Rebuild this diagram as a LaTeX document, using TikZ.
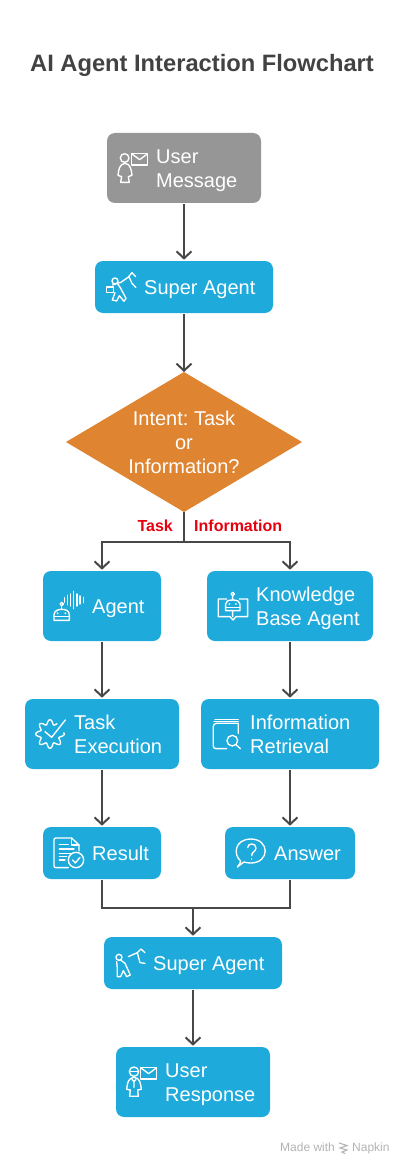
\documentclass[tikz,border=0pt]{standalone}
\usepackage{fontspec}
\setmainfont{Liberation Sans}
\usetikzlibrary{arrows.meta,shapes.geometric}
\definecolor{blueb}{HTML}{1EAADB}
\definecolor{greyb}{HTML}{969696}
\definecolor{orangeb}{HTML}{DF8430}
\definecolor{lineb}{HTML}{474747}
\definecolor{titleb}{HTML}{424242}
\definecolor{redb}{HTML}{E8000F}
\definecolor{markb}{HTML}{B4B4B4}
\tikzset{
  boxb/.style={fill=blueb,rounded corners=8pt,inner sep=0pt,outer sep=1.3pt},
  boxg/.style={fill=greyb,rounded corners=8pt,inner sep=0pt,outer sep=1.3pt},
  wh/.style 2 args={minimum width=#1pt,minimum height=#2pt},
  lab/.style={text=white,inner sep=0pt,align=left,font=\fontsize{20}{24}\selectfont},
  labtwo/.style={lab,anchor=west,yshift=-3pt},
  labone/.style={lab,anchor=west,text height=16pt,text depth=2pt},
  con/.style={draw=lineb,line width=2pt},
  arr/.style={con,-{Straight Barb[length=7pt,width=15pt,line width=2pt]}},
  tag/.style={text=redb,inner sep=0pt,font=\bfseries\fontsize{16}{18}\selectfont},
  ico/.style={draw=white,line width=1.35pt,line join=round,line cap=round},
  wmark/.style={inner sep=0pt,anchor=base west,text=markb,font=\fontsize{12}{14}\selectfont},
}
\begin{document}
\frenchspacing
\begin{tikzpicture}[x=1pt,y=-1pt]
\useasboundingbox[fill=white] (0,0) rectangle (400,1166);
\node[inner sep=0pt,text=titleb,font=\bfseries\fontsize{23.7}{28}\selectfont] (title) at (202,65) {AI Agent Interaction Flowchart};

\node[boxg,wh={154}{70}] (um) at (184,168) {};
\node[boxb,wh={178}{52}] (sa) at (184,287) {};
\node[diamond,fill=orangeb,aspect=1.686,minimum width=236pt,minimum height=140pt,inner sep=0pt,outer sep=0pt] (dec) at (184,442) {};
\node[boxb,wh={118}{70}] (ag) at (102,606) {};
\node[boxb,wh={166}{70}] (kb) at (290,606) {};
\node[boxb,wh={154}{70}] (te) at (102,734) {};
\node[boxb,wh={178}{70}] (ir) at (290,734) {};
\node[boxb,wh={118}{52}] (re) at (102,853) {};
\node[boxb,wh={130}{52}] (an) at (290,853) {};
\node[boxb,wh={178}{52}] (sb) at (193,963) {};
\node[boxb,wh={154}{70}] (ur) at (193,1082) {};

\node[labtwo] (umt) at (156,168) {User\\Message};
\node[labone] (sat) at (144,287) {Super Agent};
\node[lab,align=center,anchor=center] (dect) at (184,442) {Intent: Task\\or\\Information?};
\node[labone] (agt) at (92,606) {Agent};
\node[labtwo] (kbt) at (256,605) {Knowledge\\Base Agent};
\node[labtwo] (tet) at (74,731) {Task\\Execution};
\node[labtwo] (irt) at (250,731) {Information\\Retrieval};
\node[labone] (ret) at (92,853) {Result};
\node[labone] (ant) at (274,853) {Answer};
\node[labone] (sbt) at (153,963) {Super Agent};
\node[labtwo] (urt) at (165,1082) {User\\Response};

\node[tag,anchor=base east] (tt) at (173,531) {Task};
\node[tag,anchor=base west] (ti) at (194,531) {Information};

\coordinate (j1) at (184,542);
\coordinate (j2) at (193,908);
\draw[arr] (um) -- (sa);
\draw[arr] (sa) -- (dec);
\draw[con] (dec.south) -- (j1);
\draw[arr] (j1) -| (ag.north);
\draw[arr] (j1) -| (kb.north);
\draw[arr] (ag) -- (te);
\draw[arr] (kb) -- (ir);
\draw[arr] (te) -- (re);
\draw[arr] (ir.south) -- (an.north);
\draw[con] (re.south) |- (j2);
\draw[con] (an.south) |- (j2);
\draw[arr] (j2) -- (sb);
\draw[arr] (sb) -- (ur);

% icons, top group
\begin{scope}[shift={(0,120)},x=.3333pt,y=-.3333pt]
 \draw[ico] (374,114) circle[radius=13];
 \draw[ico] (375,130) .. controls (392,132) and (394,150) .. (396,166) -- (385,170) -- (388,187) -- (362,187) -- (365,170) -- (354,166) .. controls (356,150) and (358,132) .. cycle;
 \draw[ico] (395,100) rectangle (443,135);
 \draw[ico] (396,102) -- (419,119) -- (442,102);
 % super agent
 \draw[ico] (345,483) circle[radius=9];
 \draw[ico] (320,501) rectangle (340,518);
 \draw[ico] (338,495) -- (352,490) -- (362,505) -- (378,535) -- (372,544) -- (358,527) -- (350,543) -- (337,540) -- (345,518);
 \draw[ico] (352,490) -- (363,487) -- (387,470) -- (396,490) -- (408,503);
 \draw[ico] (386,470) -- (396,458) -- (407,470);
\end{scope}
\begin{scope}[shift={(0,500)},x=.3333pt,y=-.3333pt]
 % agent
 \draw[ico] (162,361) -- (162,345) .. controls (162,332) and (175,328) .. (185,328) .. controls (198,328) and (208,332) .. (208,345) -- (208,361) -- cycle;
 \draw[ico] (162,350) -- (208,350);
 \fill[white] (173,340) circle[radius=3] (196,340) circle[radius=3];
 \draw[ico] (185,312) circle[radius=5];
 \draw[ico] (185,317) -- (185,328);
 \foreach \bx/\bh in {194/7,203/14,212/18,221/26,231/18,240/12,251/8}{\draw[ico] (\bx,300-\bh) -- (\bx,300+\bh);}
 % kb
 \draw[ico] (680,297) -- (655,297) -- (655,350) -- (690,350) -- (699,360) -- (708,350) -- (743,350) -- (743,297) -- (718,297);
 \draw[ico] (677,332) -- (677,312) .. controls (677,304) and (684,300) .. (698,300) .. controls (712,300) and (720,304) .. (720,312) -- (720,332) -- cycle;
 \draw[ico] (677,322) -- (720,322);
 \fill[white] (688,312) circle[radius=3] (708,312) circle[radius=3];
 \draw[ico] (698,282) circle[radius=5] (698,287) -- (698,300) (698,332) -- (698,350);
 % gear
 \draw[ico] plot[smooth,samples=121,domain=55:365] ({150+(36+7*cos(8*\x))*cos(\x)},{702-(36+7*cos(8*\x))*sin(\x)});
 \draw[ico] (135,695) -- (155,712) -- (196,660);
 % retrieval
 \draw[ico] (645,659) -- (715,659);
 \draw[ico] (715,700) -- (715,670) -- (650,670) .. controls (642,670) and (640,675) .. (640,680) -- (640,738) .. controls (640,743) and (643,746) .. (648,746) -- (680,746);
 \draw[ico] (642,664) -- (715,664);
 \draw[ico] (697,722) circle[radius=16];
 \draw[ico] (708,734) -- (721,746);
\end{scope}
\begin{scope}[shift={(0,800)},x=.3333pt,y=-.3333pt]
 % result
 \draw[ico] (237,153) -- (237,135) -- (215,114) -- (168,114) .. controls (164,114) and (162,116) .. (162,120) -- (162,197) .. controls (162,201) and (164,203) .. (168,203) -- (205,203);
 \draw[ico] (215,114) -- (215,135) -- (237,135);
 \draw[ico] (178,133) -- (205,133) (178,147) -- (222,147) (178,160) -- (212,160) (178,170) -- (200,170) (178,180) -- (195,180);
 \draw[ico] (228,180) circle[radius=23];
 \draw[ico] (218,180) -- (226,189) -- (240,172);
 % answer
 \draw[ico] (722,183) .. controls (700,165) and (702,118) .. (753,117) .. controls (810,118) and (810,188) .. (753,189) .. controls (745,189) and (738,188) .. (732,186) -- (712,201) .. controls (718,195) and (721,189) .. (722,183);
 \draw[ico] (743,143) .. controls (743,128) and (768,128) .. (768,144) .. controls (768,155) and (755,155) .. (755,167);
 \fill[white] (755,177) circle[radius=2.5];
 % super agent 2
 \draw[ico] (357,472) circle[radius=9];
 \draw[ico] (350,485) -- (352,505) -- (352,530) -- (362,530) -- (370,512) -- (380,530) -- (391,525) -- (375,490) -- (362,480);
 \draw[ico] (385,470) -- (412,458) -- (420,488) -- (435,490);
 \draw[ico] (412,458) -- (423,447) -- (435,458);
 % user response
 \draw[ico] (402,815) circle[radius=14];
 \draw[ico] (389,815) -- (415,815);
 \draw[ico] (402,832) .. controls (420,834) and (422,850) .. (424,868) -- (413,870) -- (415,889) -- (389,889) -- (391,870) -- (380,868) .. controls (382,850) and (384,834) .. cycle;
 \draw[ico] (396,838) -- (402,845) -- (408,838) (402,845) -- (402,862);
 \draw[ico] (422,802) rectangle (470,837);
 \draw[ico] (423,804) -- (446,821) -- (469,804);
\end{scope}

% watermark
\node[wmark] (mw) at (280,1151) {Made with};
\node[wmark] (np) at (352,1151) {Napkin};
\draw[markb,line width=1.1pt] (339,1143) -- (347,1145.5) -- (340,1148) -- (347,1150) -- (342,1152) -- (345,1153.5);
\end{tikzpicture}
\end{document}
